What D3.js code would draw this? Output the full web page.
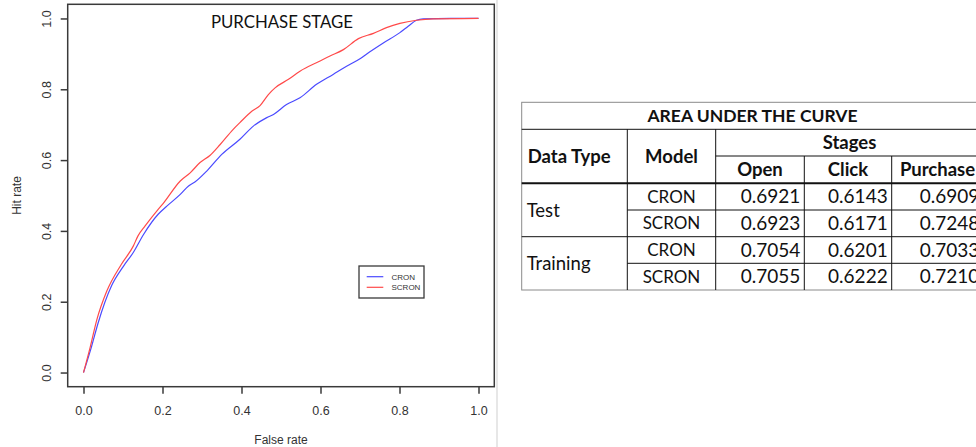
<!DOCTYPE html>
<html>
<head>
<meta charset="utf-8">
<script src="https://cdn.jsdelivr.net/npm/d3@7"></script>
<style>
  body { margin: 0; background: #fff; }
  svg { display: block; }
</style>
</head>
<body>
<div id="wrapper"></div>
<script>
// ROC curves
const cronFalse = [0, 0.02, 0.037, 0.071, 0.101, 0.126, 0.152, 0.189, 0.211, 0.245, 0.266, 0.282, 0.312, 0.35, 0.396, 0.43, 0.464, 0.481, 0.514, 0.548, 0.59, 0.632, 0.666, 0.7, 0.725, 0.759, 0.801, 0.822, 0.843, 0.86, 0.93, 1]
const cronHit = [0, 0.072, 0.14, 0.245, 0.3, 0.339, 0.39, 0.447, 0.47, 0.503, 0.527, 0.538, 0.569, 0.616, 0.659, 0.696, 0.72, 0.729, 0.757, 0.776, 0.814, 0.842, 0.865, 0.886, 0.906, 0.931, 0.96, 0.978, 0.995, 0.999, 1, 1]
const scronFalse = [0, 0.017, 0.034, 0.059, 0.096, 0.126, 0.138, 0.156, 0.189, 0.202, 0.245, 0.27, 0.295, 0.32, 0.346, 0.379, 0.396, 0.426, 0.447, 0.468, 0.485, 0.519, 0.548, 0.599, 0.624, 0.658, 0.696, 0.734, 0.767, 0.801, 0.843, 0.885, 1]
const scronHit = [0, 0.072, 0.15, 0.23, 0.306, 0.357, 0.386, 0.414, 0.461, 0.478, 0.541, 0.564, 0.593, 0.613, 0.644, 0.687, 0.706, 0.738, 0.754, 0.785, 0.804, 0.828, 0.851, 0.88, 0.894, 0.912, 0.943, 0.958, 0.974, 0.986, 0.995, 0.999, 1]
const axisTicks = [0, 0.2, 0.4, 0.6, 0.8, 1.0]
const seriesNames = ['CRON', 'SCRON']
const seriesColors = ['#4a4aff', '#ff4a4a']

// AUC table
const stages = ['Open', 'Click', 'Purchase']
const dataTypes = ['Test', 'Training']
const models = ['CRON', 'SCRON']
const aucValues = [
  [0.6921, 0.6143, 0.6909],
  [0.6923, 0.6171, 0.7248],
  [0.7054, 0.6201, 0.7033],
  [0.7055, 0.6222, 0.7210],
]

function draw() {
  const width = 976
  const height = 447
  const svg = d3.select('#wrapper').append('svg').attr('width', width).attr('height', height)

  // ---- ROC plot ----
  const box = { left: 67.7, right: 494.3, top: 4.3, bottom: 386.7 }
  const xScale = d3.scaleLinear().domain([-0.04, 1.04]).range([box.left, box.right])
  const yScale = d3.scaleLinear().domain([-0.04, 1.04]).range([box.bottom, box.top])
  const chartFont = '"Liberation Sans", Arial, sans-serif'

  // light separator line at right of the plot image
  svg.append('line')
    .attr('x1', 497).attr('x2', 497).attr('y1', 0).attr('y2', height)
    .attr('stroke', '#cfcfcf').attr('stroke-width', 1)

  const series = [
    { name: seriesNames[0], color: seriesColors[0], pts: cronFalse.map((x, i) => [x, cronHit[i]]) },
    { name: seriesNames[1], color: seriesColors[1], pts: scronFalse.map((x, i) => [x, scronHit[i]]) },
  ]
  const line = d3.line().x((d) => xScale(d[0])).y((d) => yScale(d[1])).curve(d3.curveMonotoneX)

  svg.selectAll('.roc')
    .data(series)
    .join('path')
    .attr('class', 'roc')
    .attr('d', (d) => line(d.pts))
    .attr('fill', 'none')
    .attr('stroke', (d) => d.color)
    .attr('stroke-width', 1.2)

  svg.append('rect')
    .attr('x', box.left).attr('y', box.top)
    .attr('width', box.right - box.left).attr('height', box.bottom - box.top)
    .attr('fill', 'none').attr('stroke', '#3a3a3a').attr('stroke-width', 1.5)

  const xAxis = svg.append('g')
    .attr('transform', `translate(0,${box.bottom})`)
    .call(d3.axisBottom(xScale).tickValues(axisTicks).tickFormat(d3.format('.1f')).tickSize(7).tickPadding(12))
  xAxis.select('.domain').remove()

  const yAxis = svg.append('g')
    .attr('transform', `translate(${box.left},0)`)
    .call(d3.axisLeft(yScale).tickValues(axisTicks).tickFormat(d3.format('.1f')).tickSize(7))
  yAxis.select('.domain').remove()
  yAxis.selectAll('text')
    .attr('x', null).attr('dy', '0.35em')
    .attr('text-anchor', 'middle')
    .attr('transform', 'translate(-21,0) rotate(-90)')

  svg.selectAll('.tick line').attr('stroke', '#3a3a3a').attr('stroke-width', 1.5)
  svg.selectAll('.tick text').attr('fill', '#333').style('font-family', chartFont).style('font-size', '12.5px')

  svg.append('text')
    .attr('x', (box.left + box.right) / 2).attr('y', 444)
    .attr('text-anchor', 'middle').attr('fill', '#333')
    .style('font-family', chartFont).style('font-size', '12px')
    .text('False rate')

  svg.append('text')
    .attr('transform', `translate(21,${(box.top + box.bottom) / 2}) rotate(-90)`)
    .attr('text-anchor', 'middle').attr('fill', '#333')
    .style('font-family', chartFont).style('font-size', '12px')
    .text('Hit rate')

  svg.append('text')
    .attr('x', (box.left + box.right) / 2 + 1).attr('y', 28)
    .attr('text-anchor', 'middle').attr('fill', '#111')
    .style('font-family', 'Lato, "Open Sans", sans-serif').style('font-size', '16.8px')
    .text('PURCHASE STAGE')

  // legend
  const legend = svg.append('g').attr('transform', 'translate(359,266)')
  legend.append('rect')
    .attr('width', 65).attr('height', 32)
    .attr('fill', '#fff').attr('stroke', '#3a3a3a').attr('stroke-width', 1.3)
  const legendRow = legend.selectAll('.legend-row')
    .data(series)
    .join('g')
    .attr('class', 'legend-row')
    .attr('transform', (d, i) => `translate(0,${10.7 + i * 10.6})`)
  legendRow.append('line')
    .attr('x1', 7.7).attr('x2', 24.3)
    .attr('stroke', (d) => d.color).attr('stroke-width', 1.2)
  legendRow.append('text')
    .attr('x', 32.5).attr('dy', '0.35em')
    .attr('fill', '#333')
    .style('font-family', chartFont).style('font-size', '8px')
    .text((d) => d.name)

  // ---- AUC table ----
  const tableFont = 'Lato, Carlito, "Open Sans", sans-serif'
  const colEdges = [521.7, 627.3, 715.7, 804.3, 891.7, 983.3]
  const rowEdges = [102.3, 129.3, 156, 183.3, 210, 236.7, 263.3, 290]
  const table = svg.append('g')

  const hLine = (y, x1, x2, w = 1) =>
    table.append('line').attr('x1', x1).attr('x2', x2).attr('y1', y).attr('y2', y)
      .attr('stroke', '#111').attr('stroke-width', w)
  const vLine = (x, y1, y2) =>
    table.append('line').attr('x1', x).attr('x2', x).attr('y1', y1).attr('y2', y2)
      .attr('stroke', '#111').attr('stroke-width', 1)

  table.append('rect')
    .attr('x', colEdges[0]).attr('y', rowEdges[0])
    .attr('width', colEdges[5] - colEdges[0]).attr('height', rowEdges[7] - rowEdges[0])
    .attr('fill', '#fff').attr('stroke', '#8a8a8a').attr('stroke-width', 1)

  hLine(rowEdges[1], colEdges[0], colEdges[5])
  hLine(rowEdges[2], colEdges[2], colEdges[5])
  hLine(rowEdges[3], colEdges[0], colEdges[5], 2)
  hLine(rowEdges[4], colEdges[1], colEdges[5])
  hLine(rowEdges[5], colEdges[0], colEdges[5])
  hLine(rowEdges[6], colEdges[1], colEdges[5])
  vLine(colEdges[1], rowEdges[1], rowEdges[7])
  vLine(colEdges[2], rowEdges[1], rowEdges[7])
  vLine(colEdges[3], rowEdges[2], rowEdges[7])
  vLine(colEdges[4], rowEdges[2], rowEdges[7])

  const cellText = (x, y, txt, anchor, bold, size) =>
    table.append('text')
      .attr('x', x).attr('y', y).attr('dy', '0.36em')
      .attr('text-anchor', anchor).attr('fill', '#111')
      .style('font-family', tableFont).style('font-size', size + 'px')
      .style('font-weight', bold ? 700 : 400)
      .text(txt)

  const mid = (a, b) => (a + b) / 2
  cellText(mid(colEdges[0], colEdges[5]), mid(rowEdges[0], rowEdges[1]), 'AREA UNDER THE CURVE', 'middle', true, 17.5)
  cellText(colEdges[0] + 6, mid(rowEdges[1], rowEdges[3]), 'Data Type', 'start', true, 18.5)
  cellText(mid(colEdges[1], colEdges[2]), mid(rowEdges[1], rowEdges[3]), 'Model', 'middle', true, 18.5)
  cellText(mid(colEdges[2], colEdges[5]), mid(rowEdges[1], rowEdges[2]), 'Stages', 'middle', true, 18.5)
  stages.forEach((s, j) => {
    cellText(mid(colEdges[2 + j], colEdges[3 + j]), mid(rowEdges[2], rowEdges[3]), s, 'middle', true, 18.5)
  })
  dataTypes.forEach((t, g) => {
    cellText(colEdges[0] + 5, mid(rowEdges[3 + g * 2], rowEdges[5 + g * 2]), t, 'start', false, 18.5)
  })
  aucValues.forEach((row, r) => {
    const yMid = mid(rowEdges[3 + r], rowEdges[4 + r])
    cellText(mid(colEdges[1], colEdges[2]), yMid, models[r % 2], 'middle', false, 17)
    row.forEach((v, j) => {
      cellText(colEdges[3 + j] - 4, yMid, d3.format('.4f')(v), 'end', false, 19)
    })
  })
}
draw()
</script>
</body>
</html>
